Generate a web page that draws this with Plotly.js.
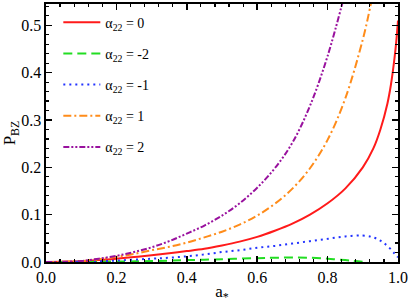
<!DOCTYPE html>
<html>
<head>
<meta charset="utf-8">
<script src="https://cdn.plot.ly/plotly-3.0.1.min.js"></script>
<style>html,body{margin:0;padding:0;background:#fff;}#chart{width:409px;height:304px;}</style>
</head>
<body>
<div id="chart"></div>
<script>
// spin parameter a* and BZ power for each alpha_22
const aRed = [0, 0.05, 0.1, 0.15, 0.2, 0.25, 0.3, 0.35, 0.4, 0.45, 0.5, 0.55, 0.6, 0.65, 0.7, 0.75, 0.8, 0.85, 0.9, 0.93, 0.95, 0.97, 0.98, 0.99, 0.995, 1.0];
const pRed = [0, 0.0003, 0.0015, 0.004, 0.007, 0.0105, 0.0145, 0.0185, 0.023, 0.028, 0.035, 0.043, 0.053, 0.066, 0.081, 0.100, 0.124, 0.155, 0.200, 0.240, 0.280, 0.335, 0.375, 0.43, 0.465, 0.51];

const aGreen = [0, 0.1, 0.2, 0.3, 0.4, 0.5, 0.6, 0.65, 0.7, 0.75, 0.8, 0.85, 0.88, 0.91];
const pGreen = [0, 0.0003, 0.001, 0.002, 0.004, 0.006, 0.008, 0.009, 0.0095, 0.009, 0.007, 0.004, 0.002, 0];

const aBlue = [0, 0.1, 0.2, 0.3, 0.35, 0.4, 0.45, 0.5, 0.55, 0.6, 0.65, 0.7, 0.75, 0.8, 0.85, 0.9, 0.93, 0.95, 0.97, 0.99, 1.0];
const pBlue = [0, 0.0005, 0.003, 0.007, 0.009, 0.012, 0.016, 0.021, 0.025, 0.030, 0.034, 0.039, 0.044, 0.049, 0.054, 0.056, 0.052, 0.045, 0.034, 0.018, 0.01];

const aOrange = [0, 0.05, 0.1, 0.15, 0.2, 0.25, 0.3, 0.35, 0.4, 0.45, 0.5, 0.55, 0.6, 0.65, 0.7, 0.75, 0.8, 0.85, 0.9, 0.92, 0.94];
const pOrange = [0, 0.0004, 0.002, 0.006, 0.011, 0.017, 0.025, 0.032, 0.041, 0.052, 0.064, 0.079, 0.098, 0.123, 0.155, 0.198, 0.258, 0.345, 0.47, 0.535, 0.61];

const aPurple = [0, 0.05, 0.1, 0.15, 0.2, 0.25, 0.3, 0.35, 0.4, 0.45, 0.5, 0.55, 0.6, 0.65, 0.7, 0.75, 0.8, 0.85];
const pPurple = [0, 0.0005, 0.002, 0.007, 0.013, 0.021, 0.031, 0.044, 0.060, 0.077, 0.098, 0.124, 0.157, 0.198, 0.252, 0.330, 0.435, 0.57];

const seriesNames = ["α<sub>22</sub> = 0", "α<sub>22</sub> = -2", "α<sub>22</sub> = -1", "α<sub>22</sub> = 1", "α<sub>22</sub> = 2"];
const xTickVals = [0, 0.2, 0.4, 0.6, 0.8, 1.0];
const xTickText = ["0.0", "0.2", "0.4", "0.6", "0.8", "1.0"];
const yTickVals = [0, 0.1, 0.2, 0.3, 0.4, 0.5];
const yTickText = ["0.0", "0.1", "0.2", "0.3", "0.4", "0.5"];

const FONT = "Liberation Serif";

const traces = [
  {x: aRed, y: pRed, name: seriesNames[0], legendgroup: "g0", line: {color: "#ff1a1a", width: 2, dash: "solid", shape: "spline"}},
  {x: aGreen, y: pGreen, name: seriesNames[1], legendgroup: "g1", line: {color: "#22dd22", width: 2, dash: "9px,5px", shape: "spline"}},
  {x: aBlue, y: pBlue, name: seriesNames[2], legendgroup: "g2", line: {color: "#2233ff", width: 2, dash: "2px,4px", shape: "spline"}},
  {x: aOrange, y: pOrange, name: seriesNames[3], legendgroup: "g3", line: {color: "#ff8c1a", width: 2, dash: "8px,3px,2px,3px", shape: "spline"}},
  {x: aPurple, y: pPurple, name: seriesNames[4], legendgroup: "g4", line: {color: "#99119e", width: 2, dash: "6px,2px,2px,2px,2px,2px", shape: "spline"}}
].map(t => Object.assign({type: "scatter", mode: "lines"}, t));

const axisCommon = {
  showline: true, linecolor: "#000", linewidth: 1.6, mirror: "allticks",
  ticks: "inside", ticklen: 6, tickwidth: 1.5, tickcolor: "#000",
  showgrid: false, zeroline: false,
  tickfont: {family: FONT, size: 16, color: "#000"}
};

const layout = {
  width: 409, height: 304,
  margin: {l: 46, r: 11, t: 4, b: 42},
  paper_bgcolor: "#fff", plot_bgcolor: "#fff",
  font: {family: FONT, color: "#000"},
  showlegend: true,
  legend: {x: 0.035, y: 0.99, xanchor: "left", yanchor: "top", bgcolor: "rgba(0,0,0,0)",
           font: {family: FONT, size: 14, color: "#000"}, itemwidth: 37, tracegroupgap: 10},
  xaxis: Object.assign({}, axisCommon, {
    range: [0, 1.0], tickvals: xTickVals, ticktext: xTickText,
    minor: {dtick: 0.04, ticks: "inside", ticklen: 3, tickwidth: 1.2, tickcolor: "#000", showgrid: false},
    title: {text: "a<sub>*</sub>", font: {family: FONT, size: 17}, standoff: 3}
  }),
  yaxis: Object.assign({}, axisCommon, {
    range: [0, 0.545], tickvals: yTickVals, ticktext: yTickText,
    minor: {dtick: 0.02, ticks: "inside", ticklen: 3, tickwidth: 1.2, tickcolor: "#000", showgrid: false},
    title: {text: "P<sub>BZ</sub>", font: {family: FONT, size: 17}, standoff: 0}
  })
};

Plotly.newPlot("chart", traces, layout, {displayModeBar: false, staticPlot: true});
</script>
</body>
</html>
